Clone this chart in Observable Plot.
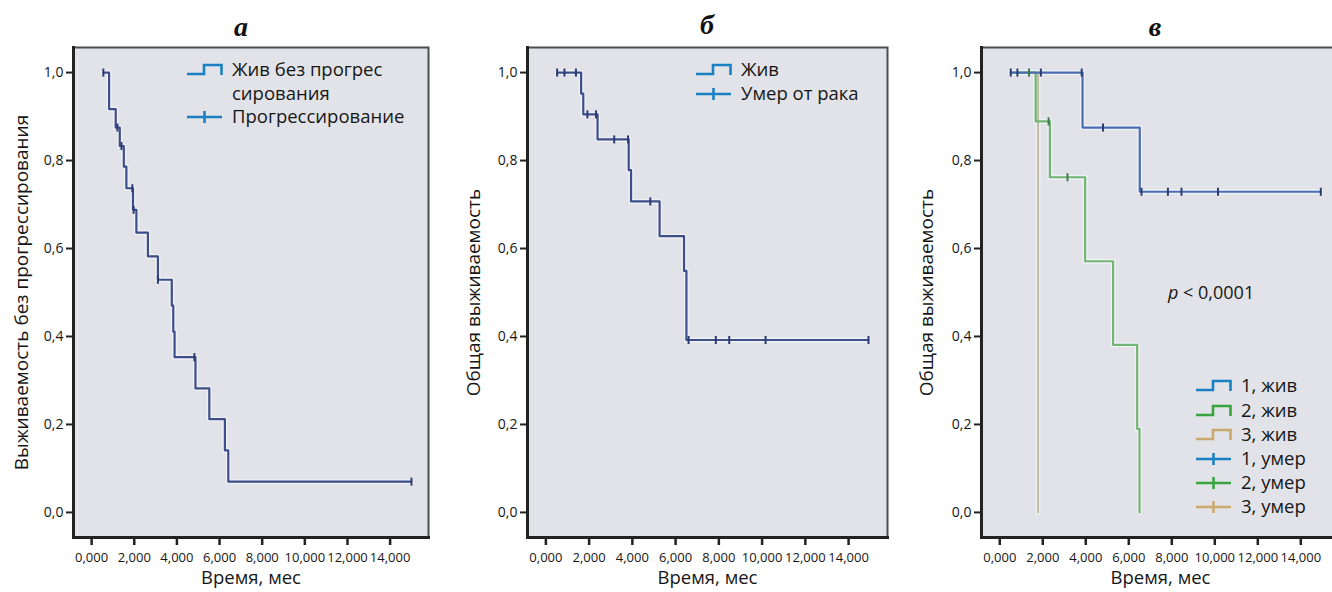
<!DOCTYPE html>
<html><head><meta charset="utf-8">
<script src="https://cdn.jsdelivr.net/npm/d3@7"></script>
<script src="https://cdn.jsdelivr.net/npm/@observablehq/plot@0.6"></script>
<style>
html,body{margin:0;padding:0;background:#fff;overflow:hidden;}
#root{position:relative;width:1332px;height:592px;overflow:hidden;font-family:'Open Sans',sans-serif;color:#161616;}
.panel{position:absolute;top:0;height:592px;}
.panel svg{max-width:none !important;}
.title{position:absolute;font-family:'Liberation Serif','DejaVu Serif',serif;font-weight:bold;font-style:italic;font-size:28px;transform:translate(-50%,-50%);line-height:1;color:#111;}
.leg{position:absolute;font-size:18.5px;line-height:1;white-space:nowrap;color:#161616;}
.sym{position:absolute;}
.pval{position:absolute;font-size:18px;line-height:1;white-space:nowrap;transform:translateY(-50%);}
</style>
</head><body><div id="root"></div>
<script>
// ---------- data ----------
const timeTicks = [0, 2, 4, 6, 8, 10, 12, 14];
const survTicks = [0, 0.2, 0.4, 0.6, 0.8, 1.0];

// Panel а: progression-free survival
const pfsTime = [0.55, 0.82, 1.13, 1.32, 1.51, 1.63, 1.94, 2.10, 2.64, 3.11, 3.76, 3.83, 3.89, 4.87, 5.52, 6.25, 6.41, 15.0];
const pfsSurv = [1.0, 0.917, 0.875, 0.833, 0.786, 0.737, 0.688, 0.636, 0.582, 0.529, 0.470, 0.411, 0.353, 0.282, 0.212, 0.141, 0.070, 0.070];
const pfsCensorTime = [0.55, 1.21, 1.40, 1.91, 1.97, 3.11, 4.82, 15.0];
const pfsCensorSurv = [1.0, 0.875, 0.833, 0.737, 0.688, 0.529, 0.353, 0.070];

// Panel б: overall survival
const osTime = [0.52, 1.63, 1.73, 2.39, 3.83, 3.94, 5.26, 6.39, 6.50, 14.92];
const osSurv = [1.0, 0.952, 0.905, 0.848, 0.778, 0.707, 0.628, 0.549, 0.392, 0.392];
const osCensorTime = [0.52, 0.86, 1.39, 1.92, 2.32, 3.16, 3.80, 4.83, 6.60, 7.86, 8.48, 10.16, 14.92];
const osCensorSurv = [1.0, 1.0, 1.0, 0.905, 0.905, 0.848, 0.848, 0.707, 0.392, 0.392, 0.392, 0.392, 0.392];

// Panel в: overall survival by group
const g1Time = [0.51, 3.85, 6.51, 14.93];
const g1Surv = [1.0, 0.875, 0.729, 0.729];
const g1CensorTime = [0.51, 0.82, 1.91, 3.81, 4.80, 6.59, 7.82, 8.45, 10.15, 14.93];
const g1CensorSurv = [1.0, 1.0, 1.0, 1.0, 0.875, 0.729, 0.729, 0.729, 0.729, 0.729];
const g2Time = [0.51, 1.67, 2.33, 3.97, 5.27, 6.39, 6.50];
const g2Surv = [1.0, 0.889, 0.762, 0.571, 0.381, 0.190, 0.0];
const g2CensorTime = [1.36, 2.27, 3.15];
const g2CensorSurv = [1.0, 0.889, 0.762];
const g3Time = [1.36, 1.78];
const g3Surv = [1.0, 0.0];

const legendA = ["Жив без прогрес\nсирования", "Прогрессирование"];
const legendB = ["Жив", "Умер от рака"];
const legendC = ["1, жив", "2, жив", "3, жив", "1, умер", "2, умер", "3, умер"];
const titles = ["а", "б", "в"];
const yLabels = ["Выживаемость без прогрессирования", "Общая выживаемость", "Общая выживаемость"];
const xLabel = "Время, мес";
const pText = "< 0,0001";

// ---------- helpers ----------
const zip = (ts, ss) => ts.map((t, i) => ({t, s: ss[i]}));
const tickSym = {draw(ctx, size) { const h = Math.sqrt(size / Math.PI); ctx.moveTo(0, -h); ctx.lineTo(0, h); }};
const FONT = "'Open Sans', sans-serif";
const root = document.getElementById("root");

function kmPanel({left, width, mL, mR, labelX, yLabel, series, censors}) {
  const marks = [
    Plot.frame({fill: "#e1e3e8", stroke: null}),
    ...series.map(s => Plot.line(s.data, {x: "t", y: "s", curve: "step-after", stroke: "#f3f6fc", strokeWidth: 5, strokeOpacity: 0.75})),
    ...series.map(s => Plot.line(s.data, {x: "t", y: "s", curve: "step-after", stroke: s.color, strokeWidth: 2.2})),
    ...censors.map(c => Plot.dot(c.data, {x: "t", y: "s", symbol: tickSym, r: 4, stroke: c.color, strokeWidth: 2, fill: "none"})),
    Plot.frame({stroke: "#4d4d4d", strokeWidth: 2}),
    Plot.axisY(survTicks, {tickSize: 7, tickPadding: 3, fontSize: 14, strokeWidth: 2, stroke: "#222", label: null,
      tickFormat: d => d.toFixed(1).replace(".", ",")}),
    Plot.axisX(timeTicks, {tickSize: 8, tickPadding: 7, fontSize: 13, strokeWidth: 2.5, stroke: "#222", label: null,
      tickFormat: d => d.toFixed(3).replace(".", ",")}),
    Plot.frame({anchor: "left", stroke: "#222", strokeWidth: 3}),
    Plot.frame({anchor: "bottom", stroke: "#222", strokeWidth: 3}),
    Plot.text([yLabel], {frameAnchor: "left", textAnchor: "middle", lineAnchor: "middle", text: d => d, rotate: -90, dx: -(mL - labelX), fontSize: 19, fill: "#161616"}),
    Plot.text([xLabel], {frameAnchor: "bottom", textAnchor: "middle", lineAnchor: "middle", text: d => d, dy: 41, fontSize: 18.5, fill: "#161616"})
  ];
  const svg = Plot.plot({
    width, height: 592, marginTop: 47, marginBottom: 55, marginLeft: mL, marginRight: mR,
    style: {fontFamily: FONT, background: "transparent", color: "#161616", overflow: "visible", maxWidth: "none"},
    x: {domain: [-0.85, 15.8], label: null},
    y: {domain: [-0.057, 1.057], label: null},
    marks
  });
  const div = document.createElement("div");
  div.className = "panel";
  div.style.left = left + "px";
  div.style.width = width + "px";
  div.appendChild(svg);
  root.appendChild(div);
}

function symbolSvg(kind, color) {
  const w = 36, h = 14;
  const p = kind === "step"
    ? `<path d="M0,11 H17 V2 H34.5 V12" fill="none" stroke="${color}" stroke-width="2.6"/>`
    : `<path d="M0,7 H35 M17.5,1 V13" fill="none" stroke="${color}" stroke-width="2.6"/>`;
  return `<svg width="${w}" height="${h}" style="display:block">${p}</svg>`;
}
function legendItem(symLeft, textLeft, cy, kind, color, label) {
  const s = document.createElement("div");
  s.className = "sym";
  s.style.left = symLeft + "px";
  s.style.top = (cy - 7) + "px";
  s.innerHTML = symbolSvg(kind, color);
  root.appendChild(s);
  const lines = label.split("\n");
  lines.forEach((ln, i) => {
    const t = document.createElement("div");
    t.className = "leg";
    t.textContent = ln;
    t.style.left = textLeft + "px";
    t.style.top = (cy + i * 24) + "px";
    t.style.transform = "translateY(-55%)";
    root.appendChild(t);
  });
}
function title(x, y, txt) {
  const d = document.createElement("div");
  d.className = "title";
  d.style.left = x + "px"; d.style.top = y + "px";
  d.textContent = txt;
  root.appendChild(d);
}

// ---------- colours ----------
const navy = "#3d4e89", navyDark = "#2c3b72";
const cBlue = "#4a6db2", cGreen = "#72b472", cTan = "#c3bea4";
const legBlue = "#1b7fc3", legGreen = "#3aa43c", legTan = "#c9a96e";

// ---------- panels ----------
kmPanel({left: 0, width: 444, mL: 73, mR: 16, labelX: 21, yLabel: yLabels[0],
  series: [{data: zip(pfsTime, pfsSurv), color: navy}],
  censors: [{data: zip(pfsCensorTime, pfsCensorSurv), color: navyDark}]});
kmPanel({left: 444, width: 444, mL: 83, mR: 1, labelX: 29, yLabel: yLabels[1],
  series: [{data: zip(osTime, osSurv), color: navy}],
  censors: [{data: zip(osCensorTime, osCensorSurv), color: navyDark}]});
kmPanel({left: 888, width: 470, mL: 93, mR: 19, labelX: 38, yLabel: yLabels[2],
  series: [
    {data: zip(g3Time, g3Surv), color: cTan},
    {data: zip(g2Time, g2Surv), color: cGreen},
    {data: zip(g1Time, g1Surv), color: cBlue}],
  censors: [
    {data: zip(g2CensorTime, g2CensorSurv), color: "#3f7a4a"},
    {data: zip(g1CensorTime, g1CensorSurv), color: navyDark}]});

// titles
title(241, 27, titles[0]);
title(707, 25, titles[1]);
title(1155, 27, titles[2]);

// legends
legendItem(187, 232, 70, "step", legBlue, legendA[0]);
legendItem(187, 232, 117, "plus", legBlue, legendA[1]);
legendItem(696, 741, 70, "step", legBlue, legendB[0]);
legendItem(696, 741, 94, "plus", legBlue, legendB[1]);
const cCols = [legBlue, legGreen, legTan, legBlue, legGreen, legTan];
const cY = [386, 411, 435, 459, 483, 507];
legendC.forEach((lab, i) => legendItem(1196, 1241, cY[i], i < 3 ? "step" : "plus", cCols[i], lab));

// p-value
const pv = document.createElement("div");
pv.className = "pval";
pv.style.left = "1168px"; pv.style.top = "292px";
pv.innerHTML = `<i>p</i> ${pText}`;
root.appendChild(pv);
</script>
</body></html>
